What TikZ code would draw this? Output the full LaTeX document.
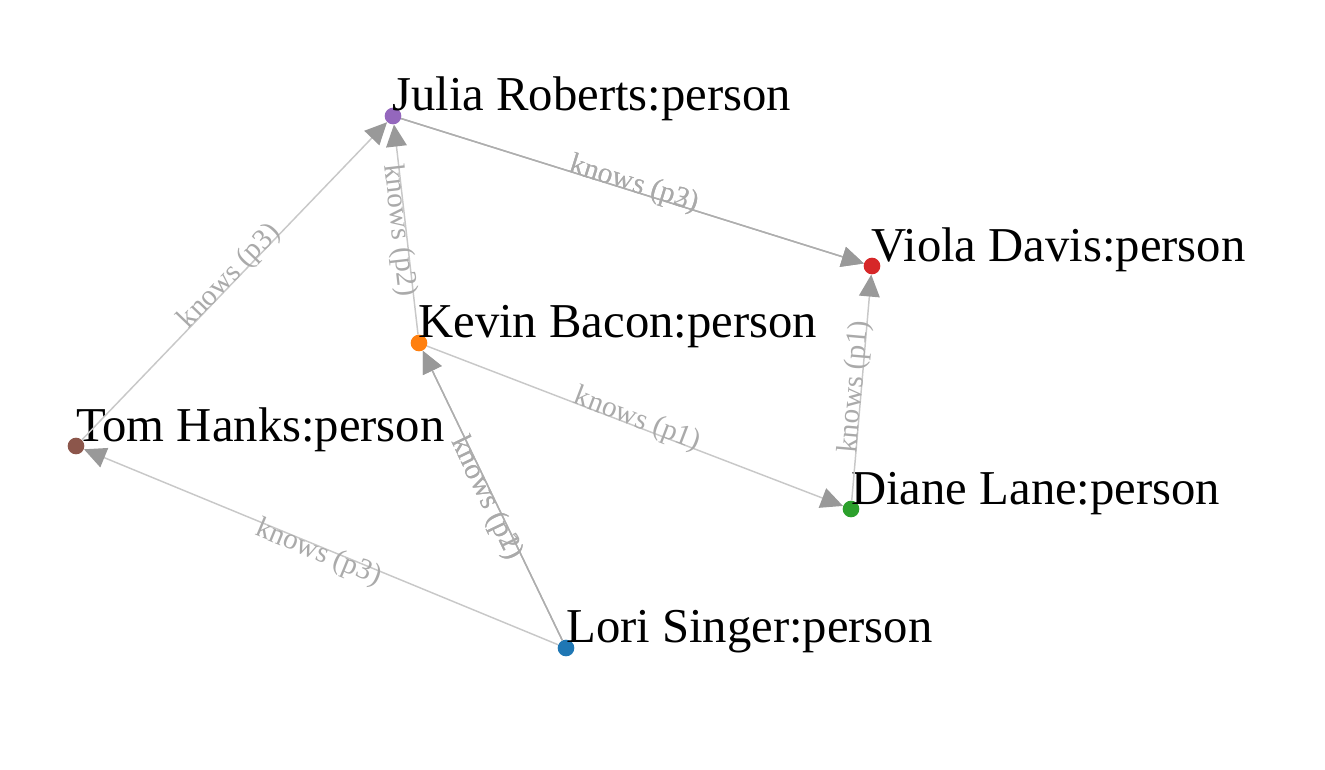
\documentclass[tikz,border=0pt]{standalone}
\usepackage{fontspec}
\setmainfont{Liberation Serif}
\usetikzlibrary{arrows.meta}
\definecolor{cblue}{HTML}{1F77B4}
\definecolor{corange}{HTML}{FF7F0E}
\definecolor{cgreen}{HTML}{2CA02C}
\definecolor{cred}{HTML}{D62728}
\definecolor{cpurple}{HTML}{9467BD}
\definecolor{cbrown}{HTML}{8C564B}
\definecolor{lineone}{HTML}{C8C8C8}
\definecolor{linetwo}{HTML}{AEAEAE}
\definecolor{tipc}{HTML}{999999}
\definecolor{lblc}{HTML}{AAAAAA}
\begin{document}
\begin{tikzpicture}[x=0.75pt,y=-0.75pt,
  dot/.style={circle,inner sep=0pt,minimum size=12.5pt,fill=#1},
  pname/.style={anchor=base west,inner sep=0pt,font=\fontsize{36.5}{40}\selectfont},
  edgeone/.style={draw=lineone,line width=1.1pt,-{Triangle[length=16.5pt,width=15.5pt,color=tipc]}},
  edgetwo/.style={draw=linetwo,line width=1.1pt,-{Triangle[length=16.5pt,width=15.5pt,color=tipc]}},
  lbl/.style={font=\fontsize{22}{24}\selectfont,text=lblc,inner sep=0pt,sloped,pos=0.5,anchor=base},
  lup/.style={lbl,yshift=-0.5pt},
  ldn/.style={lbl,yshift=-10.5pt}]
\useasboundingbox (0,0) rectangle (1325,769);
% nodes
\node[dot=cpurple] (julia) at (393,116) {};
\node[dot=cred]    (viola) at (872,266) {};
\node[dot=corange] (kevin) at (419,343) {};
\node[dot=cbrown]  (tom)   at (76,446) {};
\node[dot=cgreen]  (diane) at (851,509) {};
\node[dot=cblue]   (lori)  at (566,648) {};
\node[pname] (julia-l) at (392,110) {Julia Roberts:person};
\node[pname] (viola-l) at (871,261) {Viola Davis:person};
\node[pname] (kevin-l) at (418,337) {Kevin Bacon:person};
\node[pname] (tom-l)   at (76,441) {Tom Hanks:person};
\node[pname] (diane-l) at (851,504) {Diane Lane:person};
\node[pname] (lori-l)  at (566,642) {Lori Singer:person};
% edges
\draw[edgetwo] (julia) -- node[lup] {knows (p2)} (viola);
\draw[edgetwo] (julia) -- node[lup] {knows (p3)} (viola);
\draw[edgeone] (kevin) -- node[ldn] {knows (p2)} (julia);
\draw[edgeone] (tom) -- node[lup] {knows (p3)} (julia);
\draw[edgeone] (kevin) -- node[lup] {knows (p1)} (diane);
\draw[edgeone] (diane) -- node[lup] {knows (p1)} (viola);
\draw[edgeone] (lori) -- node[ldn] {knows (p3)} (tom);
\draw[edgetwo] (lori) -- node[ldn] {knows (p1)} (kevin);
\draw[edgetwo] (lori) -- node[ldn] {knows (p2)} (kevin);
\end{tikzpicture}
\end{document}
